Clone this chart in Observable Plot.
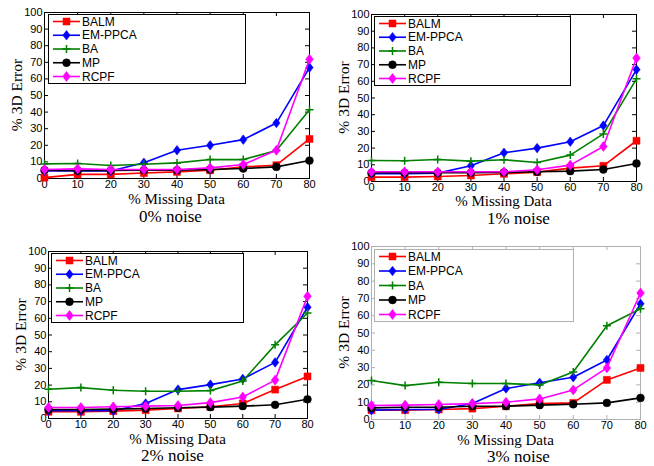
<!DOCTYPE html>
<html><head><meta charset="utf-8">
<script src="https://cdn.jsdelivr.net/npm/d3@7"></script>
<script src="https://cdn.jsdelivr.net/npm/@observablehq/plot@0.6"></script>
<style>
html,body{margin:0;padding:0;background:#fff;}
#chart{position:relative;width:654px;height:466px;overflow:hidden;background:#fff;}
#chart svg{position:absolute;overflow:visible;}
</style></head><body><div id="chart"></div>
<script>
// ---- data ----
const missing = [0, 10, 20, 30, 40, 50, 60, 70, 80];
const methods = ["BALM", "EM-PPCA", "BA", "MP", "RCPF"];
const noiseLabels = ["0% noise", "1% noise", "2% noise", "3% noise"];
const xTicks = [0, 10, 20, 30, 40, 50, 60, 70, 80];
const yTicks = [0, 10, 20, 30, 40, 50, 60, 70, 80, 90, 100];
const xLabel = "% Missing Data";
const yLabel = "% 3D Error";

const balm0  = [0.5, 2.5, 2.5, 3.3, 4.0, 5.0, 7.0, 8.0, 23.8];
const em0    = [4.5, 4.5, 4.5, 9.5, 17.0, 20.0, 23.4, 33.4, 66.8];
const ba0    = [8.8, 9.0, 7.8, 8.6, 9.4, 11.4, 11.4, 16.8, 41.4];
const mp0    = [5.0, 4.8, 4.8, 5.0, 5.0, 5.4, 6.0, 7.0, 10.8];
const rcpf0  = [5.4, 5.8, 5.4, 5.4, 5.4, 6.4, 8.4, 17.0, 71.8];

const balm1  = [2.6, 2.6, 3.0, 3.6, 4.6, 5.6, 8.0, 9.4, 24.4];
const em1    = [4.6, 4.6, 5.0, 9.4, 17.2, 20.0, 23.8, 33.5, 67.0];
const ba1    = [12.6, 12.4, 13.2, 12.2, 13.0, 11.4, 15.8, 28.5, 61.5];
const mp1    = [5.2, 5.2, 5.2, 5.2, 5.4, 5.8, 6.2, 7.2, 10.8];
const rcpf1  = [5.8, 5.8, 5.8, 5.8, 5.8, 7.0, 9.8, 21.0, 73.9];

const balm2  = [4.0, 4.0, 4.4, 5.0, 6.0, 7.0, 9.0, 17.3, 25.2];
const em2    = [4.6, 4.6, 4.6, 9.0, 17.3, 20.3, 23.7, 33.6, 66.6];
const ba2    = [17.5, 18.5, 16.9, 16.3, 16.3, 16.7, 22.5, 44.1, 63.2];
const mp2    = [5.4, 5.4, 5.6, 6.0, 6.4, 6.8, 7.4, 8.2, 11.5];
const rcpf2  = [6.6, 6.6, 7.0, 7.4, 7.8, 9.5, 12.9, 23.0, 73.2];

const balm3  = [5.4, 5.4, 5.8, 6.3, 7.7, 9.2, 9.6, 22.9, 29.8];
const em3    = [5.4, 5.8, 5.8, 9.2, 17.9, 21.2, 24.4, 34.4, 66.9];
const ba3    = [22.5, 19.6, 21.5, 20.8, 20.8, 20.0, 27.5, 54.2, 64.0];
const mp3    = [6.7, 7.1, 7.1, 7.7, 7.7, 8.3, 8.8, 9.6, 12.5];
const rcpf3  = [8.1, 8.3, 8.7, 9.2, 10.0, 11.9, 17.1, 29.8, 73.1];

const panelSeries = [
  [balm0, em0, ba0, mp0, rcpf0],
  [balm1, em1, ba1, mp1, rcpf1],
  [balm2, em2, ba2, mp2, rcpf2],
  [balm3, em3, ba3, mp3, rcpf3]
];

// ---- styles ----
const colors = ["#ff0000", "#0000ff", "#008000", "#000000", "#ff00ff"];
const diamondT = {draw(ctx, size) {const r = Math.sqrt(size / Math.PI); const h = r * 1.2, w = r * 0.92;
  ctx.moveTo(0, -h); ctx.lineTo(w, 0); ctx.lineTo(0, h); ctx.lineTo(-w, 0); ctx.closePath();}};
const plusT = {draw(ctx, size) {const r = Math.sqrt(size / Math.PI);
  ctx.moveTo(-r, 0); ctx.lineTo(r, 0); ctx.moveTo(0, -r); ctx.lineTo(0, r);}};
const squareT = {draw(ctx, size) {const r = Math.sqrt(size / Math.PI) * 0.88; ctx.rect(-r, -r, 2 * r, 2 * r);}};
const circleT = {draw(ctx, size) {const r = Math.sqrt(size / Math.PI); ctx.moveTo(r, 0); ctx.arc(0, 0, r, 0, 2 * Math.PI);}};
const symbols = [squareT, diamondT, plusT, circleT, diamondT];
const filled = [true, true, false, true, true];
const markR = [4, 4, 4, 3.9, 4.2];

// layout: frame rectangles in page pixels
const layouts = [
  {fl: 44, fr: 309, ft: 12, fb: 178, lg: {dx: 4, dy: 2, w: 197, h: 69}, tdx: -6, tdy: 38, xdy: 21, frameColor: "#000"},
  {fl: 371, fr: 636, ft: 14, fb: 181, lg: {dx: 3, dy: 2, w: 196, h: 69}, tdx: 15, tdy: 37, xdy: 20, frameColor: "#000"},
  {fl: 48, fr: 307, ft: 251, fb: 418, lg: {dx: 3, dy: 2, w: 192, h: 69}, tdx: -5, tdy: 37, xdy: 21, frameColor: "#000"},
  {fl: 371, fr: 640, ft: 246, fb: 419, lg: {dx: 3, dy: 3, w: 199, h: 72}, tdx: 13, tdy: 37, xdy: 21, frameColor: "#b0b0b0"}
];

const serif = "'Liberation Serif','Times New Roman',serif";
const sans = "'Liberation Sans',Arial,Helvetica,sans-serif";

function makePanel(pi) {
  const L = layouts[pi];
  const mL = 50, mR = 20, mT = 14, mB = 60;
  const fw = L.fr - L.fl, fh = L.fb - L.ft;
  const W = fw + mL + mR, H = fh + mT + mB;
  const series = panelSeries[pi];

  const marks = [
    Plot.frame({stroke: L.frameColor, strokeWidth: 1}),
    Plot.tickX(xTicks, {x: d => d, insetTop: fh - 4, stroke: L.frameColor}),
    Plot.tickX(xTicks, {x: d => d, insetBottom: fh - 4, stroke: L.frameColor}),
    Plot.tickY(yTicks, {y: d => d, insetRight: fw - 4, stroke: L.frameColor}),
    Plot.tickY(yTicks, {y: d => d, insetLeft: fw - 4, stroke: L.frameColor}),
    Plot.axisX(xTicks, {tickSize: 0, tickPadding: 2, label: null, fontSize: 11, fill: "#000"}),
    Plot.axisY(yTicks, {tickSize: 0, tickPadding: 2, label: null, fontSize: 11, fill: "#000"})
  ];
  methods.forEach((m, k) => {
    const rows = missing.map((x, i) => ({x, y: series[k][i]}));
    marks.push(Plot.line(rows, {x: "x", y: "y", stroke: colors[k], strokeWidth: 1.6}));
    marks.push(Plot.dot(rows, {x: "x", y: "y", symbol: () => symbols[k], r: markR[k],
      fill: filled[k] ? colors[k] : "none", stroke: colors[k], strokeWidth: filled[k] ? 0.5 : 1.5}));
  });
  // labels, title and legend
  marks.push(() => {
    const g = d3.create("svg:g");
    g.append("text").attr("transform", `translate(${mL - 27},${mT + fh / 2}) rotate(-90)`)
      .attr("text-anchor", "middle").attr("dy", "0.35em")
      .style("font-family", serif).style("font-size", "15.5px").attr("fill", "#000").text(yLabel);
    g.append("text").attr("x", mL + fw / 2).attr("y", mT + fh + L.xdy).attr("dy", "0.35em")
      .attr("text-anchor", "middle").style("font-family", serif).style("font-size", "15px")
      .attr("fill", "#000").text(xLabel);
    g.append("text").attr("x", mL + fw / 2 + L.tdx).attr("y", mT + fh + L.tdy).attr("dy", "0.35em")
      .attr("text-anchor", "middle").style("font-family", serif).style("font-size", "17px")
      .attr("fill", "#000").text(noiseLabels[pi]);
    const lx = mL + L.lg.dx, ly = mT + L.lg.dy;
    g.append("rect").attr("x", lx + 0.5).attr("y", ly + 0.5).attr("width", L.lg.w).attr("height", L.lg.h)
      .attr("fill", "#fff").attr("stroke", L.frameColor).attr("stroke-width", 1);
    const step = (L.lg.h - 14) / 4;
    methods.forEach((m, k) => {
      const cy = ly + 7.5 + k * step;
      g.append("line").attr("x1", lx + 5).attr("x2", lx + 32).attr("y1", cy).attr("y2", cy)
        .attr("stroke", colors[k]).attr("stroke-width", 1.6);
      g.append("path").attr("transform", `translate(${lx + 18.5},${cy})`)
        .attr("d", d3.symbol().type(symbols[k]).size(Math.PI * markR[k] * markR[k])())
        .attr("fill", filled[k] ? colors[k] : "none").attr("stroke", colors[k])
        .attr("stroke-width", filled[k] ? 0.5 : 1.5);
      g.append("text").attr("x", lx + 34).attr("y", cy).attr("dy", "0.35em")
        .attr("text-anchor", "start")
        .style("font-family", sans).style("font-size", "12px").attr("fill", "#000").text(m);
    });
    return g.node();
  });

  const svg = Plot.plot({
    width: W, height: H, marginLeft: mL, marginRight: mR, marginTop: mT, marginBottom: mB,
    style: {background: "transparent", fontFamily: sans, fontSize: "11px", color: "#000", overflow: "visible"},
    x: {domain: [0, 80]},
    y: {domain: [0, 100]},
    marks
  });
  svg.style.left = (L.fl - mL) + "px";
  svg.style.top = (L.ft - mT) + "px";
  document.getElementById("chart").appendChild(svg);
}
[0, 1, 2, 3].forEach(makePanel);
</script></body></html>
